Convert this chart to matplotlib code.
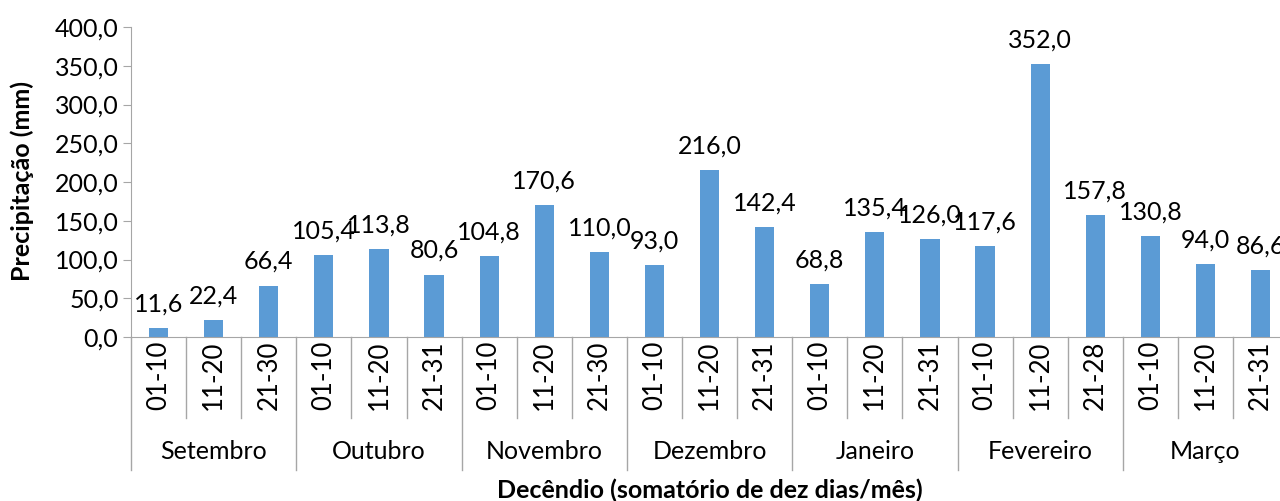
import matplotlib
matplotlib.use('Agg')
import matplotlib.pyplot as plt
import matplotlib.transforms as mtransforms

# Data
meses = ['Setembro', 'Outubro', 'Novembro', 'Dezembro', 'Janeiro', 'Fevereiro', 'Março']
decendios = ['01-10', '11-20', '21-30',
             '01-10', '11-20', '21-31',
             '01-10', '11-20', '21-30',
             '01-10', '11-20', '21-31',
             '01-10', '11-20', '21-31',
             '01-10', '11-20', '21-28',
             '01-10', '11-20', '21-31']
precipitacao = [11.6, 22.4, 66.4,
                105.4, 113.8, 80.6,
                104.8, 170.6, 110.0,
                93.0, 216.0, 142.4,
                68.8, 135.4, 126.0,
                117.6, 352.0, 157.8,
                130.8, 94.0, 86.6]

plt.rcParams['font.family'] = ['Lato', 'DejaVu Sans']
axis_gray = '#A6A6A6'
bar_blue = '#5B9BD5'
fs = 18

fig = plt.figure(figsize=(12.8, 5.01), dpi=100)
ax = fig.add_axes([131 / 1280, 1 - 337 / 501, 21 * 55.1 / 1280, 310 / 501])

x = list(range(len(precipitacao)))
bars = ax.bar(x, precipitacao, width=0.35, color=bar_blue)

# value labels with comma decimal
for xi, v in zip(x, precipitacao):
    ax.annotate(f'{v:.1f}'.replace('.', ','), (xi, v), xytext=(0, 9),
                textcoords='offset points', ha='center', va='bottom', fontsize=fs)

ax.set_xlim(-0.5, len(x) - 0.5)
ax.set_ylim(0, 400)
ax.set_yticks(range(0, 401, 50))
ax.set_yticklabels([f'{t:.1f}'.replace('.', ',') for t in range(0, 401, 50)], fontsize=fs)
ax.tick_params(axis='y', length=6, color=axis_gray, pad=3)
ax.set_xticks([])

for side in ['top', 'right']:
    ax.spines[side].set_visible(False)
for side in ['left', 'bottom']:
    ax.spines[side].set_color(axis_gray)

# category axis: separators and labels
trans = mtransforms.blended_transform_factory(ax.transData, ax.transAxes)
for i in range(len(x) + 1):
    b = i - 0.5
    y_end = -0.43 if i % 3 == 0 else -0.262
    ax.plot([b, b], [0, y_end], color=axis_gray, lw=1, transform=trans, clip_on=False)

for xi, lab in zip(x, decendios):
    ax.text(xi, -0.125, lab, rotation=90, ha='center', va='center',
            fontsize=fs + 0.5, transform=trans)

for m, nome in enumerate(meses):
    ax.text(3 * m + 1, -0.37, nome, ha='center', va='center', fontsize=fs, transform=trans)

# axis titles
ax.text(0.5, -0.495, 'Decêndio (somatório de dez dias/mês)', ha='center', va='center',
        fontsize=18, fontweight='bold', transform=ax.transAxes)
fig.text(0.017, 0.639, 'Precipitação (mm)', rotation=90, ha='center', va='center',
         fontsize=fs, fontweight='bold')

fig.savefig('out.png', dpi=100)
